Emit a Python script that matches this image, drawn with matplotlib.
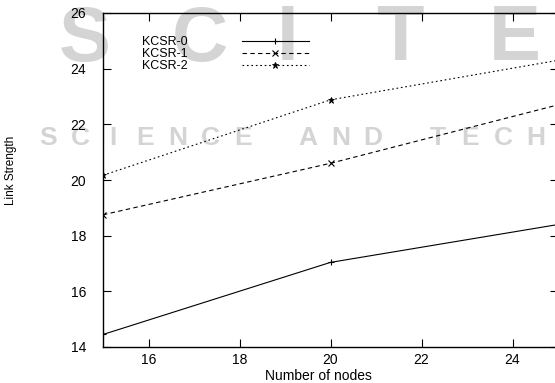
import matplotlib
matplotlib.use("Agg")
import matplotlib.pyplot as plt

# ---------------------------------------------------
# Data
# ---------------------------------------------------
nodes = [15, 20, 25]
kcsr0 = [14.45, 17.04, 18.4]
kcsr1 = [18.75, 20.6, 22.7]
kcsr2 = [20.17, 22.88, 24.3]
labels = ["KCSR-0", "KCSR-1", "KCSR-2"]
xticks = [16, 18, 20, 22, 24]
yticks = [14, 16, 18, 20, 22, 24, 26]

plt.rcParams["font.family"] = ["Liberation Sans", "DejaVu Sans"]

W, H = 555, 383
fig = plt.figure(figsize=(W / 100, H / 100), dpi=100)

# ---------------------------------------------------
# Faint watermark behind the chart
# ---------------------------------------------------
wm = "#d4d4d4"

def letters(text, centers, yc, size):
    for ch, x in zip(text, centers):
        if ch == " ":
            continue
        fig.text(x / W, 1 - yc / H, ch, color=wm, fontsize=size,
                 fontweight="bold", ha="center", va="center", zorder=-1)

letters("SCITE", [85, 200, 288, 400, 515], 40, 56)
line2 = "SCIENCE AND TECH"
letters(line2, [48 + 32.5 * i for i in range(len(line2))], 138, 19)

# ---------------------------------------------------
# Axes (right edge runs just past the image, as in the reference)
# ---------------------------------------------------
ax = fig.add_axes([103 / W, 36 / H, 455 / W, 334 / H])
ax.patch.set_alpha(0)

ax.plot(nodes, kcsr0, color="black", lw=0.8, ls="-", marker="+", ms=5, mew=0.8, label=labels[0])
ax.plot(nodes, kcsr1, color="black", lw=0.8, ls=(0, (4, 3)), marker="x", ms=4, mew=0.8, label=labels[1])
ax.plot(nodes, kcsr2, color="black", lw=0.8, ls=(0, (1.5, 2.5)), marker="*", ms=5, mew=0.6, label=labels[2])

ax.set_xlim(15, 25)
ax.set_ylim(14, 26)
ax.set_xticks(xticks)
ax.set_yticks(yticks)
ax.tick_params(direction="in", length=6, width=0.8, top=True, right=True,
               labelsize=10)
ax.tick_params(axis="y", pad=12)
ax.tick_params(axis="x", pad=4)
for s in ax.spines.values():
    s.set_linewidth(1.0)

ax.set_xlabel("Number of nodes", fontsize=10)
ax.xaxis.set_label_coords(0.473, -0.065)
ax.set_ylabel("Link Strength", fontsize=8.5)
ax.yaxis.set_label_coords(-0.19, 0.53)

leg = ax.legend(loc="upper left", bbox_to_anchor=(0.075, 0.945), frameon=False,
                markerfirst=False, handlelength=5.4, fontsize=9,
                labelspacing=0.0, handletextpad=4.3, borderaxespad=0)

fig.savefig("out.png", dpi=100)
